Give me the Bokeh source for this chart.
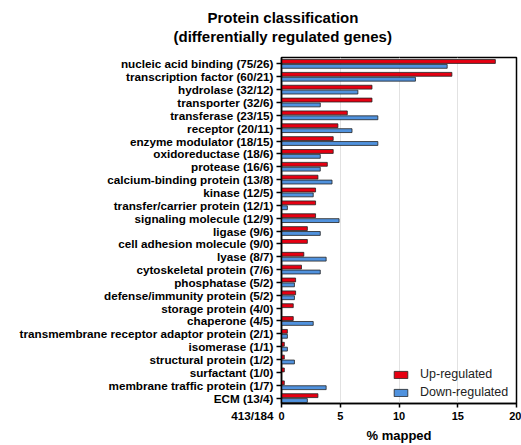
from bokeh.plotting import figure
from bokeh.models import Range1d, FixedTicker, ColumnDataSource, Title
from bokeh.transform import dodge
from bokeh.embed import file_html
from bokeh.resources import INLINE

categories = [
    "nucleic acid binding (75/26)", "transcription factor (60/21)", "hydrolase (32/12)",
    "transporter (32/6)", "transferase (23/15)", "receptor (20/11)",
    "enzyme modulator (18/15)", "oxidoreductase (18/6)", "protease (16/6)",
    "calcium-binding protein (13/8)", "kinase (12/5)", "transfer/carrier protein (12/1)",
    "signaling molecule (12/9)", "ligase (9/6)", "cell adhesion molecule (9/0)",
    "lyase (8/7)", "cytoskeletal protein (7/6)", "phosphatase (5/2)",
    "defense/immunity protein (5/2)", "storage protein (4/0)", "chaperone (4/5)",
    "transmembrane receptor adaptor protein (2/1)", "isomerase (1/1)",
    "structural protein (1/2)", "surfactant (1/0)", "membrane traffic protein (1/7)",
    "ECM (13/4)",
]
up_pct = [18.2, 14.5, 7.7, 7.7, 5.6, 4.8, 4.4, 4.4, 3.9, 3.1, 2.9, 2.9, 2.9, 2.2, 2.2,
          1.9, 1.7, 1.2, 1.2, 1.0, 1.0, 0.5, 0.24, 0.24, 0.24, 0.24, 3.1]
down_pct = [14.1, 11.4, 6.5, 3.3, 8.2, 6.0, 8.2, 3.3, 3.3, 4.3, 2.7, 0.5, 4.9, 3.3, 0.0,
            3.8, 3.3, 1.1, 1.1, 0.0, 2.7, 0.5, 0.5, 1.1, 0.0, 3.8, 2.2]
x_ticks = [0, 5, 10, 15, 20]
totals_label = "413/184"
title_lines = ["Protein classification", "(differentially regulated genes)"]
series_names = ["Up-regulated", "Down-regulated"]

RED = "#e60012"
BLUE = "#5092de"
FONT = "Liberation Sans"

idx = list(range(len(categories)))
src = ColumnDataSource(dict(idx=idx, up=up_pct, down=down_pct))

p = figure(width=521, height=445, output_backend="svg", toolbar_location=None,
           x_range=Range1d(0, 20), y_range=Range1d(len(categories) - 0.58, -0.5),
           min_border_left=281, min_border_right=5, min_border_top=57, min_border_bottom=38)

p.hbar(y=dodge("idx", -0.19, range=p.y_range), right="up", left=0, height=0.3, source=src,
       fill_color=RED, line_color="#222222", line_width=0.8, legend_label=series_names[0])
p.hbar(y=dodge("idx", 0.19, range=p.y_range), right="down", left=0, height=0.3, source=src,
       fill_color=BLUE, line_color="#222222", line_width=0.8, legend_label=series_names[1])

# x axis
p.xaxis.ticker = FixedTicker(ticks=x_ticks)
p.xaxis.minor_tick_line_color = None
p.xaxis.major_tick_out = 4
p.xaxis.major_tick_in = 0
p.xaxis.major_label_standoff = 4
p.xaxis.axis_label = "% mapped"
p.xaxis.axis_label_standoff = 5
p.xaxis.axis_label_text_font = FONT
p.xaxis.axis_label_text_font_style = "bold"
p.xaxis.axis_label_text_font_size = "13px"
p.xaxis.major_label_text_font = FONT
p.xaxis.major_label_text_font_style = "bold"
p.xaxis.major_label_text_font_size = "11px"

# y axis: category labels; the totals label sits under the last one
labels = {i: c for i, c in zip(idx, categories)}
labels[idx[-1]] = "\n" + categories[-1] + "\n" + totals_label
p.yaxis.ticker = FixedTicker(ticks=idx)
p.yaxis.major_label_overrides = labels
p.yaxis.minor_tick_line_color = None
p.yaxis.major_tick_out = 5
p.yaxis.major_tick_in = 0
p.yaxis.major_label_standoff = 3
p.yaxis.major_label_text_font = FONT
p.yaxis.major_label_text_font_style = "bold"
p.yaxis.major_label_text_font_size = "11.7px"
p.yaxis.major_label_text_line_height = 1.36

for ax in (p.xaxis, p.yaxis):
    ax.axis_line_color = "black"
    ax.axis_line_width = 1.5
    ax.major_tick_line_color = "black"
    ax.major_tick_line_width = 1.5
    ax.major_label_text_color = "black"
    ax.axis_label_text_color = "black"

p.ygrid.grid_line_color = None
p.xgrid.grid_line_color = "#e2e2e2"
p.xgrid.grid_line_width = 1
p.outline_line_color = "black"
p.outline_line_width = 1.5
p.outline_line_alpha = 1

# legend
lg = p.legend[0]
lg.location = (111, 4)
lg.padding = 0
lg.margin = 0
lg.spacing = 4
lg.border_line_color = None
lg.background_fill_alpha = 0
lg.glyph_width = 17
lg.glyph_height = 9
lg.label_height = 10
lg.label_standoff = 11
lg.label_text_font = FONT
lg.label_text_font_size = "12.5px"
lg.label_text_color = "#222222"

# two-line title, each line centred over x = 0 (the frame's left edge); a blank
# spacer title keeps the gap above the frame
p.add_layout(Title(text=" ", text_font_size="10px", standoff=0), "above")
p.add_layout(Title(text=title_lines[1], align="left", offset=-108, standoff=0,
                   vertical_align="bottom", text_font=FONT, text_font_style="bold",
                   text_font_size="15px", text_color="black"), "above")
p.add_layout(Title(text=title_lines[0], align="left", offset=-74, standoff=0,
                   vertical_align="bottom", text_font=FONT, text_font_style="bold",
                   text_font_size="15px", text_color="black"), "above")

open("out.html", "w").write(file_html(p, INLINE))
